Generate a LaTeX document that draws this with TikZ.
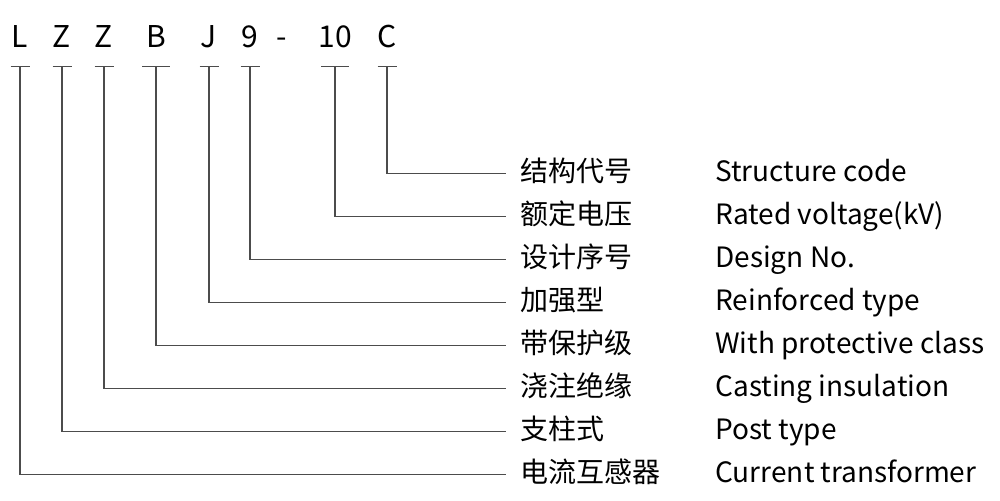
\documentclass[tikz,border=0pt]{standalone}
\usepackage{fontspec}
\setmainfont{Noto Sans CJK SC}
\usetikzlibrary{positioning}

\tikzset{
  codeletter/.style={anchor=base,inner sep=0pt,font=\fontsize{15pt}{18pt}\selectfont},
  zhtext/.style={anchor=base west,inner xsep=7pt,inner ysep=0pt,font=\fontsize{14pt}{17pt}\selectfont},
  entext/.style={anchor=base west,inner sep=0pt,font=\fontsize{14pt}{17pt}\selectfont},
  lead/.style={line width=0.75pt,black!70},
}

\begin{document}
\begin{tikzpicture}[x=0.5pt,y=-0.5pt]
    \useasboundingbox (0,0) rectangle (1000,500);

    %%model code
    \node[codeletter] (cL)  at(20,47){L};
    \node[codeletter] (cZa) at(62,47){Z};
    \node[codeletter] (cZb) at(104,47){Z};
    \node[codeletter] (cB)  at(156,47){B};
    \node[codeletter] (cJ)  at(209,47){J};
    \node[codeletter] (c9)  at(250,47){9};
    \node[codeletter] (cDash) at(282,47){-};
    \node[codeletter] (c10) at(335,47){10};
    \node[codeletter] (cC)  at(387,47){C};
    \coordinate (bar) at (0,66.5);

    %%meanings
    \node[zhtext] (zhC)  at(506,181){结构代号};
    \node[zhtext] (zh10) at(506,224){额定电压};
    \node[zhtext] (zh9)  at(506,267){设计序号};
    \node[zhtext] (zhJ)  at(506,310){加强型};
    \node[zhtext] (zhB)  at(506,353){带保护级};
    \node[zhtext] (zhZb) at(506,396){浇注绝缘};
    \node[zhtext] (zhZa) at(506,439){支柱式};
    \node[zhtext] (zhL)  at(506,482){电流互感器};

    \node[entext] (enC)  at(715,181){Structure code};
    \node[entext] (en10) at(715,224){Rated voltage(kV)};
    \node[entext] (en9)  at(715,267){Design No.};
    \node[entext] (enJ)  at(715,310){Reinforced type};
    \node[entext] (enB)  at(715,353){With protective class};
    \node[entext] (enZb) at(715,396){Casting insulation};
    \node[entext] (enZa) at(715,439){Post type};
    \node[entext] (enL)  at(715,482){Current transformer};

    %%leaders
    \foreach \c/\w/\d in {cL/9.5/zhL,cZa/9.5/zhZa,cZb/9.5/zhZb,cB/14/zhB,cJ/9.5/zhJ,c9/9.5/zh9,c10/14/zh10,cC/9.5/zhC}{
        \draw[lead] (\c |- bar) ++(-\w,0) -- ++({2*\w},0);
        \draw[lead] (\c |- bar) |- ([yshift=3.8pt]\d.base west);
    }

\end{tikzpicture}
\end{document}
